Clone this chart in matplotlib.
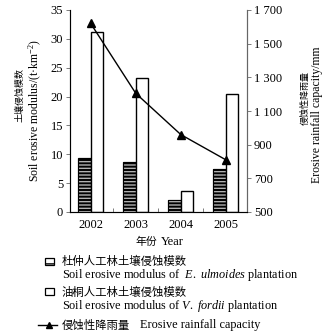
import numpy as np
import matplotlib
matplotlib.use("Agg")
import matplotlib.pyplot as plt
from matplotlib.patches import Rectangle
from matplotlib.lines import Line2D

plt.rcParams['font.family'] = ['Liberation Serif', 'Noto Sans CJK SC']
plt.rcParams['mathtext.fontset'] = 'custom'
plt.rcParams['mathtext.rm'] = 'Liberation Serif'
plt.rcParams['mathtext.it'] = 'Liberation Serif:italic'
plt.rcParams['font.size'] = 9

years = ['2002', '2003', '2004', '2005']
ulmoides = [9.3, 8.6, 2.1, 7.4]      # t/km2
fordii = [31.2, 23.2, 3.6, 20.4]     # t/km2
rainfall = [1620, 1205, 960, 810]    # mm
right_ticks = [500, 700, 900, 1100, 1300, 1500, 1700]
right_labels = ['500', '700', '900', '1 100', '1 300', '1 500', '1 700']

W, H = 331, 335
fig = plt.figure(figsize=(W / 100, H / 100), dpi=100)
ax = fig.add_axes([70 / W, 1 - 212 / H, 177 / W, 202 / H])

x = np.arange(len(years))
bw = 0.28
ax.bar(x - bw / 2, ulmoides, bw, facecolor='black', edgecolor='black', linewidth=0.8)
ax.bar(x - bw / 2, ulmoides, bw, facecolor='none', edgecolor='#b0b0b0', hatch='-----', linewidth=0)
ax.bar(x - bw / 2, ulmoides, bw, facecolor='none', edgecolor='black', linewidth=0.8)
ax.bar(x + bw / 2, fordii, bw, facecolor='white', edgecolor='black', linewidth=1.0)

ax.set_xlim(-0.46, 3.47)
ax.set_ylim(0, 35)
ax.set_yticks(range(0, 36, 5))
ax.set_xticks(x)
ax.set_xticklabels(years)
ax.set_xticks([0.5, 1.5, 2.5], minor=True)
ax.tick_params(axis='x', which='major', length=0, pad=5)
ax.tick_params(axis='x', which='minor', direction='in', length=3, width=0.6, color='#666666')
ax.tick_params(axis='y', direction='out', length=3, width=0.6, pad=2, color='#666666')
ax.spines['top'].set_visible(False)
for s in ax.spines.values():
    s.set_linewidth(0.8)
    s.set_color('#666666')

ax2 = ax.twinx()
ax2.plot(x, rainfall, color='black', linewidth=1.0, marker='^', markersize=6)
ax2.set_ylim(500, 1700)
ax2.set_yticks(right_ticks)
ax2.set_yticklabels(right_labels)
ax2.tick_params(axis='y', direction='out', length=3, width=0.6, pad=2, color='#666666')
ax2.spines['top'].set_visible(False)
ax2.spines['right'].set_linewidth(0.8)
ax2.spines['right'].set_color('#666666')

# axis titles
fig.text(20 / W, 1 - 95 / H, '土壤侵蚀模数', rotation=90, ha='center', va='center', fontsize=6.5)
fig.text(35 / W, 1 - 110 / H, 'Soil erosive modulus/(t·km$^{-2}$)', rotation=90,
         ha='center', va='center', fontsize=8.5)
fig.text(305 / W, 1 - 98 / H, '侵蚀性降雨量', rotation=90, ha='center', va='center', fontsize=6.5)
fig.text(317 / W, 1 - 115 / H, 'Erosive rainfall capacity/mm', rotation=90,
         ha='center', va='center', fontsize=8.5)
fig.text(135 / W, 1 - 242 / H, '年份', ha='left', va='center', fontsize=7.8)
fig.text(161 / W, 1 - 242 / H, 'Year', ha='left', va='center', fontsize=9)

# legend
def fx(px):
    return px / W

def fy(py):
    return 1 - py / H

fig.add_artist(Rectangle((fx(45), fy(265)), 9 / W, 7 / H, facecolor='white',
                         edgecolor='black', hatch='---', linewidth=0.9, transform=fig.transFigure))
fig.text(fx(62), fy(261), '杜仲人工林土壤侵蚀模数', va='center', fontsize=8.2)
fig.text(fx(62), fy(275), 'Soil erosive modulus of  $\\it{E.\\ ulmoides}$ plantation', va='center',
         fontsize=8.8)
fig.add_artist(Rectangle((fx(45), fy(295)), 9 / W, 7 / H, facecolor='white',
                         edgecolor='black', linewidth=0.9, transform=fig.transFigure))
fig.text(fx(62), fy(292), '油桐人工林土壤侵蚀模数', va='center', fontsize=8.2)
fig.text(fx(62), fy(306), 'Soil erosive modulus of $\\it{V.\\ fordii}$ plantation', va='center',
         fontsize=8.8)
fig.add_artist(Line2D([fx(38), fx(57)], [fy(325), fy(325)], color='black', linewidth=1.0,
                      transform=fig.transFigure))
fig.add_artist(Line2D([fx(49)], [fy(325)], color='black', marker='^', markersize=5,
                      transform=fig.transFigure))
fig.text(fx(62), fy(325), '侵蚀性降雨量', va='center', fontsize=8.2)
fig.text(fx(140), fy(325), 'Erosive rainfall capacity', va='center', fontsize=8.8)

fig.savefig('out.png', dpi=100)
